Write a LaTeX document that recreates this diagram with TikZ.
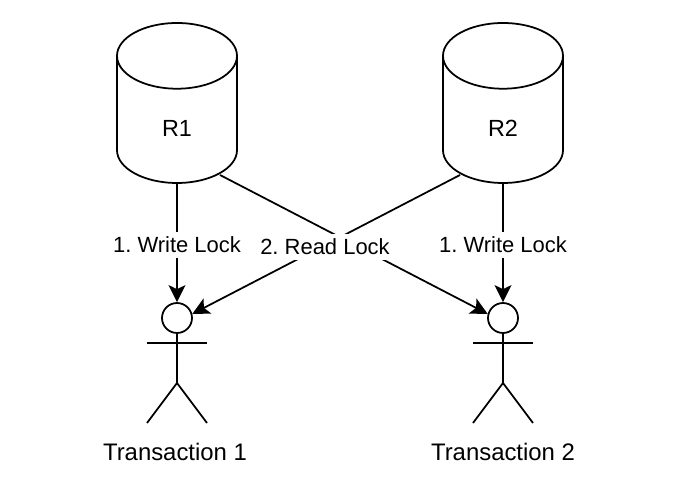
\documentclass[tikz,border=0pt]{standalone}
\usepackage{fontspec}
\setmainfont{Liberation Sans}
\usetikzlibrary{shapes.geometric,arrows.meta,positioning,calc}
\frenchspacing
\tikzset{
  lockStore/.style={draw,cylinder,shape border rotate=90,shape aspect=2.2,minimum width=2.4cm,minimum height=3.2cm,inner sep=0pt,line width=1pt,anchor=shape center,text height=0.66cm,font=\fontsize{13.3}{15}\selectfont},
  lockHead/.style={draw,circle,minimum size=0.6cm,inner sep=0pt,line width=1pt},
  lockLimb/.style={line width=1pt},
  lockEdge/.style={line width=1pt,-{Stealth[length=0.34cm,width=0.34cm,inset=0.08cm]}},
  lockLabel/.style={fill=white,inner sep=1pt,minimum height=0.52cm,font=\fontsize{12.5}{14}\selectfont},
  txnLabel/.style={font=\fontsize{13.6}{15}\selectfont}
}
\begin{document}
\begin{tikzpicture}
  \useasboundingbox (0,0) rectangle (13.68,9.62);
  % resources
  \node[lockStore] (r1) at (3.54,7.56) {R1};
  \node[lockStore] (r2) at (10.06,7.56) {R2};
  \coordinate (r1out) at (4.40,6.12);
  \coordinate (r2out) at (9.20,6.12);
  % transactions
  \foreach \x/\name in {3.54/head1,10.06/head2}{
    \node[lockHead] (\name) at (\x,3.26) {};
    \draw[lockLimb] (\name.south) -- (\x,1.96);
    \draw[lockLimb] (\x-0.6,2.76) -- (\x+0.6,2.76);
    \draw[lockLimb] (\x-0.6,1.16) -- (\x,1.96) -- (\x+0.6,1.16);
  }
  \node[txnLabel] (txn1) at (3.50,0.58) {Transaction 1};
  \node[txnLabel] (txn2) at (10.06,0.58) {Transaction 2};
  % locks
  \draw[lockEdge] (r1.south) -- (head1.north);
  \draw[lockEdge] (r2.south) -- (head2.north);
  \draw[lockEdge] (r1out) -- (head2.165);
  \draw[lockEdge] (r2out) -- (head1.15);
  \node[lockLabel] (write1) at (3.54,4.72) {1. Write Lock};
  \node[lockLabel] (write2) at (10.06,4.72) {1. Write Lock};
  \node[lockLabel] (read) at (6.50,4.68) {2. Read Lock};
\end{tikzpicture}
\end{document}
